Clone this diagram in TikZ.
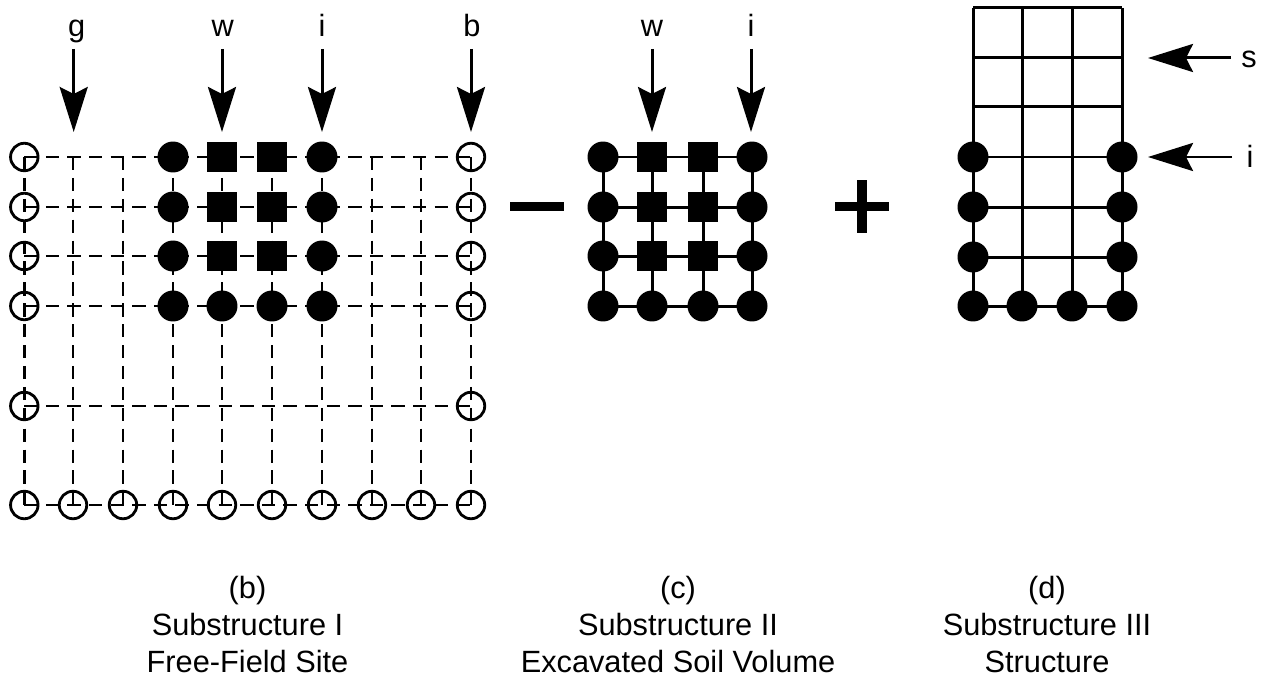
\documentclass[tikz,border=0pt]{standalone}
\usepackage{fontspec}
\setmainfont{Liberation Sans}
\usetikzlibrary{arrows.meta}
\tikzset{
	opennode/.style={circle,draw,line width=.056cm,minimum size=.55cm,inner sep=0pt},
	dotnode/.style={circle,fill,minimum size=.62cm,inner sep=0pt},
	squarenode/.style={rectangle,fill,minimum size=.6cm,inner sep=0pt},
	dashrow/.style={line width=.058cm,dash pattern=on .266cm off .166cm},
	dashcol/.style={line width=.058cm,dash pattern=on .266cm off .152cm},
	solidline/.style={line width=.06cm},
	loadarrow/.style={line width=.06cm,-{Stealth[length=.9cm,width=.56cm,inset=.14cm]}},
	loadlabel/.style={inner sep=0pt,outer sep=0pt,font=\fontsize{17.5}{21}\selectfont,text depth=.24cm,minimum width=.72cm,anchor=base},
	caption/.style={align=center,inner sep=0pt,anchor=base,font=\fontsize{17.5}{21}\selectfont},
}
\begin{document}
\begin{tikzpicture}[x=.02cm,y=-.02cm]
	\useasboundingbox (0,0) rectangle (1268,679);
	% Substructure I
	\foreach \c/\x in {0/24.3,1/73,2/123,3/173,4/222,5/272,6/322,7/372,8/421,9/471} {
		\coordinate (freetop\c) at (\x,157);
		\node (free\c-5) at (\x,505) [opennode] {};
	}
	\foreach \c/\x in {0/24.3,9/471}
		\foreach \r/\y in {0/157,1/207,2/256,3/306,4/406}
			\node (free\c-\r) at (\x,\y) [opennode] {};
	\foreach \r in {0,...,5}
		\draw [dashrow] (free0-\r.center) -- (free9-\r.center);
	\foreach \c in {0,...,9}
		\draw [dashcol] (freetop\c) -- (free\c-5.center);
	\foreach \c/\x in {3/173,6/322}
		\foreach \r/\y in {0/157,1/207,2/256,3/306}
			\node (free\c-\r) at (\x,\y) [dotnode] {};
	\foreach \c/\x in {4/222,5/272} {
		\foreach \r/\y in {0/157,1/207,2/256}
			\node (free\c-\r) at (\x,\y) [squarenode] {};
		\node (free\c-3) at (\x,306) [dotnode] {};
	}
	% Substructure II
	\foreach \c/\x in {0/603,3/752}
		\foreach \r/\y in {0/157,1/207,2/256,3/306}
			\node (soil\c-\r) at (\x,\y) [dotnode] {};
	\foreach \c/\x in {1/652,2/703} {
		\foreach \r/\y in {0/157,1/207,2/256}
			\node (soil\c-\r) at (\x,\y) [squarenode] {};
		\node (soil\c-3) at (\x,306) [dotnode] {};
	}
	\foreach \r in {0,...,3}
		\draw [solidline] (soil0-\r.center) -- (soil3-\r.center);
	\foreach \c in {0,...,3}
		\draw [solidline] (soil\c-0.center) -- (soil\c-3.center);
	% Substructure III
	\foreach \c/\x in {0/973,1/1022,2/1072,3/1122} {
		\foreach \r/\y in {0/8,1/58,2/107}
			\coordinate (struct\c-\r) at (\x,\y);
		\node (struct\c-6) at (\x,306) [dotnode] {};
	}
	\foreach \c/\x in {0/973,3/1122}
		\foreach \r/\y in {3/157,4/207,5/257}
			\node (struct\c-\r) at (\x,\y) [dotnode] {};
	\foreach \r in {0,...,6}
		\draw [solidline] (struct0-\r.center) -- (struct3-\r.center);
	\foreach \c in {0,...,3}
		\draw [solidline] (struct\c-0.center) -- (struct\c-6.center);
	% minus and plus
	\node (minus) at (537,206.5) [rectangle,fill,minimum width=1.08cm,minimum height=.18cm,inner sep=0pt] {};
	\node (plusH) at (862,206.5) [rectangle,fill,minimum width=1.08cm,minimum height=.19cm,inner sep=0pt] {};
	\node (plusV) at (862,206.5) [rectangle,fill,minimum width=.19cm,minimum height=1.06cm,inner sep=0pt] {};
	% loads
	\node (labelg) at (76.7,37) [loadlabel] {g};
	\node (labelw) at (222.7,37) [loadlabel] {w};
	\node (labeli) at (322,37) [loadlabel] {i};
	\node (labelb) at (472,37) [loadlabel] {b};
	\node (labelcw) at (652,37) [loadlabel] {w};
	\node (labelci) at (751,37) [loadlabel] {i};
	\node (labels) at (1249,68) [loadlabel,text depth=0pt] {s};
	\node (labeldi) at (1250,168) [loadlabel,text depth=0pt] {i};
	\foreach \n/\x in {g/73.7,w/222,i/322,b/471,cw/652,ci/751} {
		\coordinate (tip\n) at (\x,132);
		\draw [loadarrow] (label\n.south -| tip\n) -- (tip\n);
	}
	\coordinate (tips) at (1148,58);
	\coordinate (tipdi) at (1148,157);
	\draw [loadarrow] (labels.west |- tips) -- (tips);
	\draw [loadarrow] (labeldi.west |- tipdi) -- (tipdi);
	% captions
	\node (capb) at (247.5,672) [caption] {(b)\\Substructure I\\Free-Field Site};
	\node (capc) at (678,672) [caption] {(c)\\Substructure II\\Excavated Soil Volume};
	\node (capd) at (1047,672) [caption] {(d)\\Substructure III\\Structure};
\end{tikzpicture}
\end{document}
